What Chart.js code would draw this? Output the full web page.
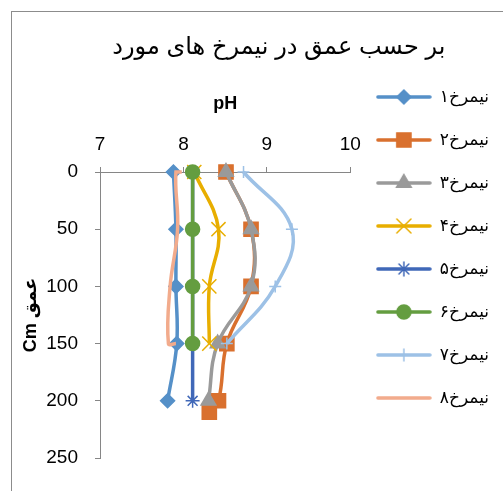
<!DOCTYPE html>
<html lang="fa">
<head>
<meta charset="UTF-8">
<title>pH بر حسب عمق</title>
<script src="https://cdn.jsdelivr.net/npm/chart.js"></script>
<style>
  body { margin: 0; background: #fff; }
  .wrap { position: relative; width: 503px; height: 491px; overflow: hidden; }
  .frame { position: absolute; left: 11px; top: 11px; width: 700px; height: 700px;
           border: 1px solid #8c8c8c; pointer-events: none; }
</style>
</head>
<body>
<div class="wrap">
  <canvas id="phChart" width="503" height="491"></canvas>
  <div class="frame"></div>
</div>

<script>
  // profile names
  const profiles = ['نیمرخ۱', 'نیمرخ۲', 'نیمرخ۳', 'نیمرخ۴', 'نیمرخ۵', 'نیمرخ۶', 'نیمرخ۷', 'نیمرخ۸'];

  // depth (cm) and pH for each profile
  const depth1 = [0, 50, 100, 150, 200];
  const ph1 = [7.88, 7.91, 7.91, 7.92, 7.81];
  const depth2 = [0, 50, 100, 150, 200, 210];
  const ph2 = [8.51, 8.81, 8.81, 8.52, 8.42, 8.31];
  const depth3 = [0, 50, 100, 150, 200];
  const ph3 = [8.51, 8.81, 8.81, 8.41, 8.30];
  const depth4 = [0, 50, 100, 150];
  const ph4 = [8.13, 8.42, 8.31, 8.31];
  const depth5 = [0, 50, 100, 150, 200];
  const ph5 = [8.11, 8.11, 8.11, 8.11, 8.11];
  const depth6 = [0, 50, 100, 150];
  const ph6 = [8.11, 8.11, 8.11, 8.11];
  const depth7 = [0, 50, 100, 150];
  const ph7 = [8.72, 9.30, 9.10, 8.52];
  const depth8 = [0, 0, 50, 100, 150, 150];
  const ph8 = [7.98, 7.91, 7.93, 7.84, 7.82, 7.91];

  const xTicks = [7, 8, 9, 10];
  const yTicks = [0, 50, 100, 150, 200, 250];

  const phs = [ph1, ph2, ph3, ph4, ph5, ph6, ph7, ph8];
  const depths = [depth1, depth2, depth3, depth4, depth5, depth6, depth7, depth8];

  const looks = [
    { color: '#5590c8', style: 'rectRot', r: 7 },
    { color: '#d9702e', style: 'rect', r: 10 },
    { color: '#9a9a9a', style: 'triangle', r: 8.5 },
    { color: '#e8ae00', style: 'crossRot', r: 10 },
    { color: '#4068b8', style: 'star', r: 7 },
    { color: '#649d40', style: 'circle', r: 7 },
    { color: '#9dc1e6', style: 'cross', r: 6 },
    { color: '#f2ab8c', style: false, r: 0 }
  ];

  Chart.defaults.font.family = "'Liberation Sans', 'DejaVu Sans', sans-serif";
  Chart.defaults.color = '#000';

  // small line+marker pictures for the legend
  function swatch(look) {
    const c = document.createElement('canvas');
    c.width = 56; c.height = 22;
    const g = c.getContext('2d');
    g.strokeStyle = look.color;
    g.lineWidth = 3.5;
    g.lineCap = 'round';
    g.beginPath(); g.moveTo(2, 11); g.lineTo(54, 11); g.stroke();
    if (look.style) {
      g.fillStyle = look.color;
      g.lineWidth = 1.5;
      Chart.helpers.drawPoint(g, { pointStyle: look.style, radius: look.r, rotation: 0, borderWidth: 1.5 }, 28, 11);
    }
    return c;
  }
  const swatches = looks.map(swatch);

  const datasets = profiles.map((name, i) => ({
    label: name,
    data: phs[i].map((v, k) => ({ x: v, y: depths[i][k] })),
    showLine: true,
    tension: 0.4,
    borderColor: looks[i].color,
    borderWidth: 3.5,
    pointStyle: looks[i].style,
    pointRadius: looks[i].r,
    pointBackgroundColor: looks[i].color,
    pointBorderColor: looks[i].color,
    pointBorderWidth: 1.5,
    clip: false,
    order: profiles.length - i
  }));

  new Chart(document.getElementById('phChart'), {
    type: 'scatter',
    data: { datasets },
    options: {
      responsive: false,
      animation: false,
      layout: { padding: { top: 37, left: 12, right: 4, bottom: 33 } },
      plugins: {
        title: {
          display: true,
          // leading spaces push the centred title a little to the right
          text: '       بر حسب عمق در نیمرخ های مورد',
          font: { size: 24, weight: 'normal', lineHeight: 1 },
          padding: { top: -2, bottom: 10 }
        },
        legend: {
          position: 'right',
          align: 'center',
          maxWidth: 220,
          labels: {
            usePointStyle: true,
            pointStyleWidth: 55,
            padding: 26,
            font: { size: 17 },
            sort: (a, b) => a.datasetIndex - b.datasetIndex,
            generateLabels: chart => Chart.defaults.plugins.legend.labels.generateLabels(chart)
              .map(item => Object.assign(item, { pointStyle: swatches[item.datasetIndex] }))
          }
        },
        tooltip: { enabled: false }
      },
      scales: {
        x: {
          type: 'linear',
          position: 'top',
          min: xTicks[0],
          max: xTicks[xTicks.length - 1],
          afterBuildTicks: s => { s.ticks = xTicks.map(v => ({ value: v })); },
          afterFit: s => { s.height = 103; },
          ticks: { font: { size: 19 }, padding: 11 },
          title: { display: true, text: 'pH', font: { size: 18, weight: 'bold' }, padding: { top: 24 } },
          grid: { drawOnChartArea: false, tickLength: 5, color: '#868686' },
          border: { color: '#868686' }
        },
        y: {
          type: 'linear',
          reverse: true,
          min: yTicks[0],
          max: yTicks[yTicks.length - 1],
          afterBuildTicks: s => { s.ticks = yTicks.map(v => ({ value: v })); },
          afterFit: s => { s.width = 88; },
          ticks: { font: { size: 19 }, padding: 17 },
          title: { display: true, text: 'Cm عمق', font: { size: 18, weight: 'bold' }, padding: { top: 8 } },
          grid: { drawOnChartArea: false, tickLength: 5, color: '#868686' },
          border: { color: '#868686' }
        }
      }
    }
  });
</script>
</body>
</html>
